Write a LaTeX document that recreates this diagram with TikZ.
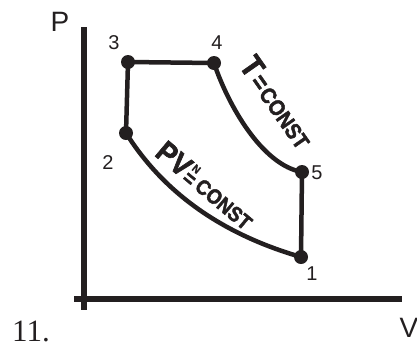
\documentclass[tikz,border=0pt]{standalone}
\usepackage{fontspec}
\setmainfont{Liberation Sans}
\newfontfamily\timesf{Liberation Serif}
\newfontfamily\heavyf{Liberation Sans Bold}[FakeBold=2,FakeStretch=0.9]
\definecolor{ink}{HTML}{231F20}
\begin{document}
\begin{tikzpicture}[x=1pt,y=-1pt,
  axis/.style={line width=5.5pt,draw=ink},
  proc/.style={line width=4.5pt,draw=ink,line join=round},
  pt/.style={circle,fill=ink,inner sep=0pt,minimum size=14pt},
  num/.style={font=\fontsize{20}{20}\selectfont,text=ink,inner sep=0pt},
  lbl/.style={font=\heavyf,text=ink,inner sep=0pt}]
\useasboundingbox (0,0) rectangle (417,349);
\coordinate (ytop) at (84,27);
\coordinate (ybot) at (84,310);
\coordinate (xl) at (74,299);
\coordinate (xr) at (402,299);
\draw[axis] (ytop) -- (ybot);
\draw[axis] (xl) -- (xr);
\node[pt] (p3) at (128,62) {};
\node[pt] (p4) at (214,63) {};
\node[pt] (p2) at (126,133) {};
\node[pt] (p5) at (302,172) {};
\node[pt] (p1) at (301,257) {};
\draw[proc] (p2.center) -- (p3.center) -- (p4.center);
\draw[proc] (p4.center) .. controls (228,105) and (262,165) .. (p5.center);
\draw[proc] (p5.center) -- (p1.center);
\draw[proc] (p2.center) .. controls (165,195) and (225,235) .. (p1.center);
\node[num] (n3) at (114,43) {3};
\node[num] (n4) at (217,43) {4};
\node[num] (n2) at (108,163) {2};
\node[num] (n5) at (317,173) {5};
\node[num] (n1) at (312,274) {1};
\node[text=ink,inner sep=0pt,font=\fontsize{28}{28}\selectfont] (P) at (60,22) {P};
\node[text=ink,inner sep=0pt,font=\fontsize{28}{28}\selectfont] (V) at (409,328) {V};
\node[text=ink,inner sep=0pt,font=\timesf\fontsize{31}{31}\selectfont] (eleven) at (31,331) {11.};
\node[lbl,rotate=-55] (tconst) at (277,102) {\fontsize{32}{32}\selectfont T\kern2pt\fontsize{25}{25}\selectfont=\kern2pt\fontsize{22}{22}\selectfont CONST};
\node[lbl,rotate=-40] (pvconst) at (205,186) {\fontsize{30}{30}\selectfont PV\kern1pt\fontsize{21}{21}\selectfont\rlap{\kern1pt\raisebox{13pt}{\fontsize{11}{11}\selectfont N}}\raisebox{-2pt}{=}\kern4pt CONST};
\end{tikzpicture}
\end{document}
